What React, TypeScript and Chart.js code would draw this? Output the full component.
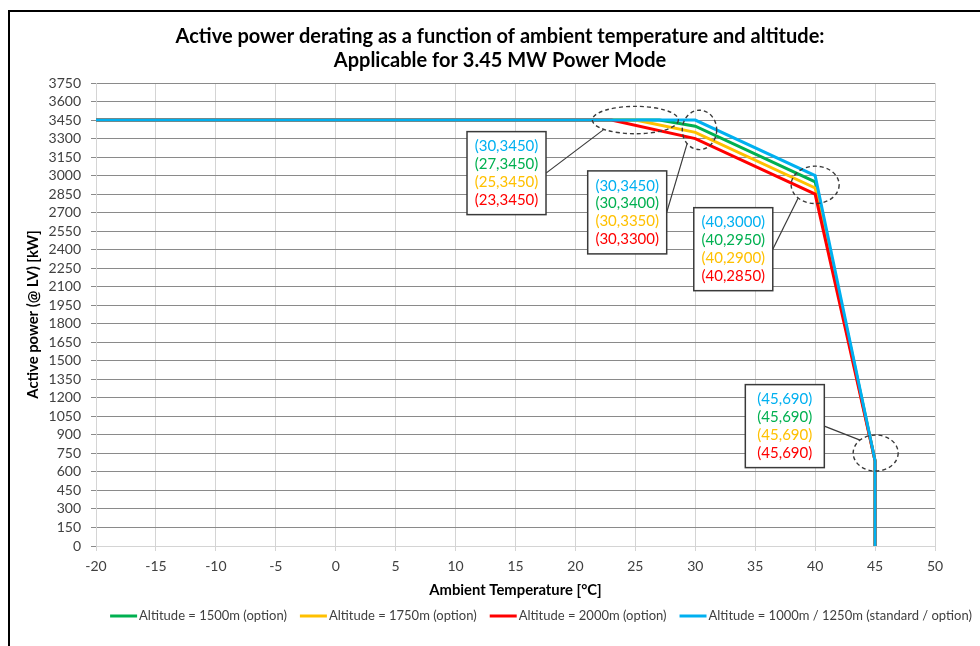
import React, { useEffect, useRef } from "react";
import { Chart, registerables } from "chart.js";

Chart.register(...registerables);

// ---- Data ----
const seriesNames = [
  "Altitude = 1500m (option)",
  "Altitude = 1750m (option)",
  "Altitude = 2000m (option)",
  "Altitude = 1000m / 1250m (standard / option)",
];
const seriesColors = ["#00B050", "#FFC000", "#FF0000", "#00B0F0"];

const tempGreen = [-20, 27, 30, 40, 45, 45];
const powerGreen = [3450, 3450, 3400, 2950, 690, 0];
const tempYellow = [-20, 25, 30, 40, 45, 45];
const powerYellow = [3450, 3450, 3350, 2900, 690, 0];
const tempRed = [-20, 23, 30, 40, 45, 45];
const powerRed = [3450, 3450, 3300, 2850, 690, 0];
const tempBlue = [-20, 30, 30, 40, 45, 45];
const powerBlue = [3450, 3450, 3450, 3000, 690, 0];

const xTicksMin = -20;
const xTicksMax = 50;
const xStep = 5;
const yTicksMin = 0;
const yTicksMax = 3750;
const yStep = 150;

const titleLines = [
  "Active power derating as a function of ambient temperature and altitude:",
  "Applicable for 3.45 MW Power Mode",
];
const xTitle = "Ambient Temperature [°C]";
const yTitle = "Active power (@ LV) [kW]";

// annotation anchors (data units) — which knee point index each box describes
const annotPointIndex = [1, 2, 3, 4];
const annotEllipseX = [25, 30.35, 40, 45.05];
const annotEllipseY = [3450, 3370, 2925, 753];
const annotBoxX = [14.25, 24.32, 33.17, 37.47];
const annotBoxY = [3020, 2702, 2404, 971];

// styles / sizes (pixels)
const ellipseRx = [43, 17.2, 24, 22.5];
const ellipseRy = [13.7, 19.7, 18.7, 18];
const connectorAngle = [137, 136, 135, 226];
const BOX_W = 79;
const BOX_H = 83;
const FONT = "Lato, 'Open Sans', sans-serif";

const toPts = (xs: number[], ys: number[]) => xs.map((x, i) => ({ x, y: ys[i] }));

const lineSeries = [
  { t: tempGreen, p: powerGreen },
  { t: tempYellow, p: powerYellow },
  { t: tempRed, p: powerRed },
  { t: tempBlue, p: powerBlue },
];
// annotation text order: blue, green, yellow, red
const annotOrder = [3, 0, 1, 2];

const overlayPlugin = {
  id: "overlay",
  afterDraw(chart: any) {
    const ctx = chart.ctx as CanvasRenderingContext2D;
    const xs = chart.scales.x;
    const ys = chart.scales.y;
    const area = chart.chartArea;
    ctx.save();

    // outer frame
    ctx.fillStyle = "#000";
    ctx.fillRect(8, 10, 980, 2);
    ctx.fillRect(8, 10, 2, 646);

    // title
    ctx.fillStyle = "#000";
    ctx.textAlign = "center";
    ctx.textBaseline = "middle";
    ctx.font = `bold 20px ${FONT}`;
    ctx.fillText(titleLines[0], 500, 37);
    ctx.fillText(titleLines[1], 500, 61);

    // axis titles
    ctx.font = `bold 14.8px ${FONT}`;
    ctx.fillText(xTitle, (area.left + area.right) / 2, 590);
    ctx.save();
    ctx.translate(33, (area.top + area.bottom) / 2);
    ctx.rotate(-Math.PI / 2);
    ctx.fillText(yTitle, 0, 0);
    ctx.restore();

    // legend
    ctx.font = `13px ${FONT}`;
    const lineLen = 27;
    const gapLT = 2;
    const gapItem = 13;
    const widths = seriesNames.map((n) => lineLen + gapLT + ctx.measureText(n).width);
    const total = widths.reduce((a, b) => a + b, 0) + gapItem * (widths.length - 1);
    let lx = 541 - total / 2;
    const ly = 616;
    ctx.textAlign = "left";
    seriesNames.forEach((n, i) => {
      ctx.strokeStyle = seriesColors[i];
      ctx.lineWidth = 3;
      ctx.beginPath();
      ctx.moveTo(lx, ly);
      ctx.lineTo(lx + lineLen, ly);
      ctx.stroke();
      ctx.fillStyle = "#404040";
      ctx.fillText(n, lx + lineLen + gapLT, ly);
      lx += widths[i] + gapItem;
    });

    // annotations
    annotPointIndex.forEach((pi, k) => {
      const ex = xs.getPixelForValue(annotEllipseX[k]);
      const ey = ys.getPixelForValue(annotEllipseY[k]);
      const bx = xs.getPixelForValue(annotBoxX[k]);
      const by = ys.getPixelForValue(annotBoxY[k]);

      // dashed ellipse
      ctx.strokeStyle = "#3a3a3a";
      ctx.lineWidth = 1.4;
      ctx.setLineDash([4, 3]);
      ctx.beginPath();
      ctx.ellipse(ex, ey, ellipseRx[k], ellipseRy[k], 0, 0, Math.PI * 2);
      ctx.stroke();
      ctx.setLineDash([]);

      // connector
      const a = (connectorAngle[k] * Math.PI) / 180;
      const cx = ex + ellipseRx[k] * Math.cos(a);
      const cy = ey + ellipseRy[k] * Math.sin(a);
      ctx.strokeStyle = "#3a3a3a";
      ctx.lineWidth = 1.2;
      ctx.beginPath();
      ctx.moveTo(bx + BOX_W / 2, by);
      ctx.lineTo(cx, cy);
      ctx.stroke();

      // box
      ctx.fillStyle = "#fff";
      ctx.fillRect(bx - BOX_W / 2, by - BOX_H / 2, BOX_W, BOX_H);
      ctx.strokeStyle = "#3a3a3a";
      ctx.lineWidth = 1.5;
      ctx.strokeRect(bx - BOX_W / 2, by - BOX_H / 2, BOX_W, BOX_H);

      ctx.font = `15px ${FONT}`;
      ctx.textAlign = "center";
      ctx.textBaseline = "middle";
      annotOrder.forEach((si, j) => {
        const s = lineSeries[si];
        ctx.fillStyle = seriesColors[si];
        ctx.fillText(`(${s.t[pi]},${s.p[pi]})`, bx, by + (j - 1.5) * 17.8);
      });
    });

    ctx.restore();
  },
};

export default function App() {
  const ref = useRef<HTMLCanvasElement | null>(null);

  useEffect(() => {
    if (!ref.current) return;
    const datasets = lineSeries.map((s, i) => ({
      label: seriesNames[i],
      data: toPts(s.t, s.p),
      borderColor: seriesColors[i],
      backgroundColor: seriesColors[i],
      borderWidth: 3,
      pointRadius: 0,
      showLine: true,
      fill: false,
      tension: 0,
      order: 3 - i,
    }));
    const tickFont = { family: FONT, size: 14 };
    const chart = new Chart(ref.current, {
      type: "scatter",
      data: { datasets },
      options: {
        responsive: false,
        animation: false,
        devicePixelRatio: 1,
        layout: { padding: { top: 83, right: 45, bottom: 0, left: 0 } },
        scales: {
          x: {
            type: "linear",
            min: xTicksMin,
            max: xTicksMax,
            ticks: {
              stepSize: xStep,
              autoSkip: false,
              maxRotation: 0,
              padding: 7,
              font: tickFont,
              color: "#404040",
              callback: (v: any) => String(v),
            },
            grid: { color: "#d4d4d4", tickLength: 5, lineWidth: 1 },
            border: { color: "#d4d4d4" },
            afterFit: (s: any) => {
              s.height = 100;
            },
          },
          y: {
            min: yTicksMin,
            max: yTicksMax,
            ticks: {
              stepSize: yStep,
              autoSkip: false,
              padding: 10,
              font: tickFont,
              color: "#404040",
              callback: (v: any) => String(v),
            },
            grid: { color: "#8a8a8a", tickLength: 5, lineWidth: 1 },
            border: { color: "#d4d4d4" },
            afterFit: (s: any) => {
              s.width = 96;
            },
          },
        },
        plugins: {
          legend: { display: false },
          title: { display: false },
          tooltip: { enabled: false },
        },
      },
      plugins: [overlayPlugin],
    } as any);
    return () => chart.destroy();
  }, []);

  return (
    <div style={{ position: "fixed", left: 0, top: 0, width: 980, height: 646, background: "#fff" }}>
      <canvas ref={ref} width={980} height={646} style={{ display: "block", width: 980, height: 646 }} />
    </div>
  );
}
